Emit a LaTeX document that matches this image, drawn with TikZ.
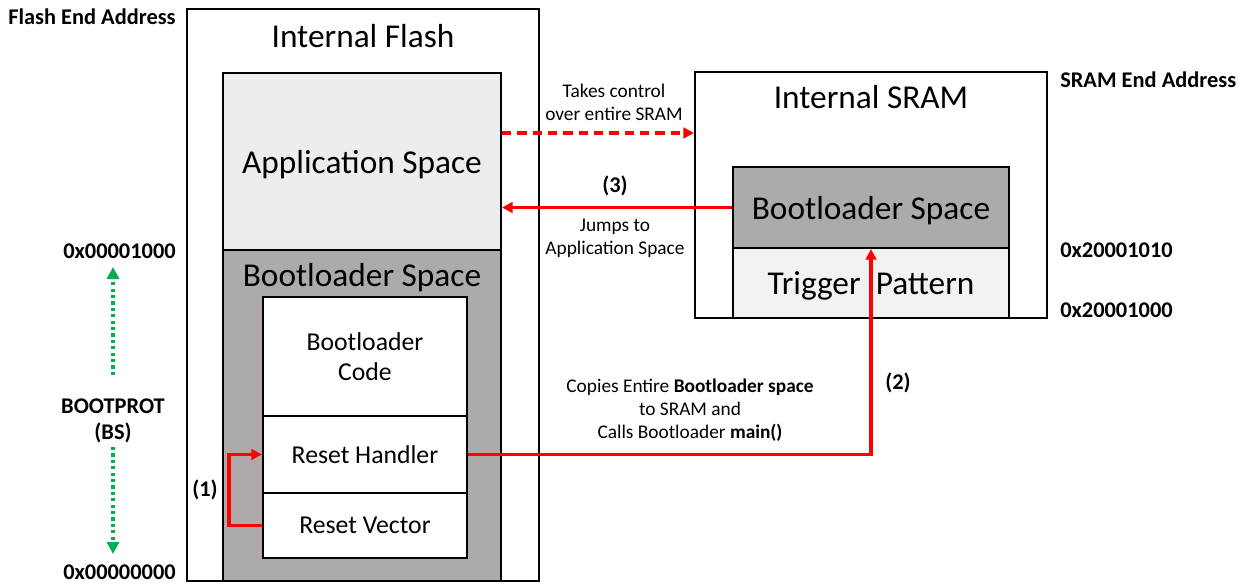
\documentclass[tikz,border=0pt]{standalone}
\usepackage{fontspec}
\setmainfont{Carlito}
\usetikzlibrary{arrows.meta}
\definecolor{blgray}{HTML}{AEAAAA}
\definecolor{appgray}{HTML}{EDEDED}
\definecolor{trigray}{HTML}{F2F2F2}
\definecolor{bsgreen}{HTML}{00B050}

\begin{document}
\begin{tikzpicture}[
    x=0.75pt, y=-0.75pt,
    box/.style={rectangle, draw, line width=1.5pt, inner sep=0pt},
    big/.style={font=\fontsize{25}{29}\selectfont},
    mid/.style={font=\fontsize{19.3}{23}\selectfont, align=center},
    small/.style={font=\fontsize{14.5}{17.25}\selectfont, align=center},
    addr/.style={font=\bfseries\fontsize{16.8}{19}\selectfont, inner sep=0pt},
    flow/.style={draw=red, line width=2.4pt, -{Triangle[length=8pt,width=8pt]}},
    bsline/.style={draw=bsgreen, line width=2.4pt, dash pattern=on 2.4pt off 2.4pt,
                   -{Triangle[length=9pt,width=9pt]}},
    >=Stealth
]
\useasboundingbox (0,0) rectangle (1246,586);

% Flash
\node[box, minimum width=264pt, minimum height=429pt] (flash) at (363,295) {};
\node[big] (flashtitle) at (363,36) {Internal Flash};
\node[box, fill=appgray, big, text depth=0pt, minimum width=208.5pt, minimum height=132.75pt] (app)
    at (362,161.5) {Application Space};
\node[box, fill=blgray, minimum width=208.5pt, minimum height=248.25pt] (fboot) at (362,415.5) {};
\node[big] (fboottitle) at (362,278) {Bootloader Space};
\node[box, fill=white, mid, minimum width=153pt, minimum height=89.25pt] (code)
    at (365,356.5) {Bootloader\\Code};
\node[box, fill=white, mid, minimum width=153pt, minimum height=57.75pt] (handler)
    at (365,454.5) {Reset Handler};
\node[box, fill=white, mid, minimum width=153pt, minimum height=48.75pt] (vector)
    at (365,525.5) {Reset Vector};

% SRAM
\node[box, minimum width=264pt, minimum height=184.5pt] (sram) at (871,195) {};
\node[big] (sramtitle) at (871,97) {Internal SRAM};
\node[box, fill=blgray, big, text depth=0pt, minimum width=207pt, minimum height=60.75pt] (sboot)
    at (871,207.5) {Bootloader Space};
\node[box, fill=trigray, big, text depth=0pt, minimum width=207pt, minimum height=52.5pt] (trigger)
    at (871,283) {Trigger~ Pattern};

% Adressen
\node[addr, anchor=west] (flashend) at (8,17) {Flash End Address};
\node[addr, anchor=east] (bsend) at (176,251) {0x00001000};
\node[addr, anchor=east] (flashstart) at (176,572) {0x00000000};
\node[addr, anchor=west] (sramend) at (1060,80) {SRAM End Address};
\node[addr, anchor=west] (trigend) at (1060,250) {0x20001010};
\node[addr, anchor=west] (trigstart) at (1060,310) {0x20001000};

% BOOTPROT
\node[addr, align=center] (bootprot) at (113,421) {BOOTPROT\\(BS)};
\coordinate (bptop) at (113,267);
\coordinate (bpbot) at (113,554);
\draw[bsline, shorten <=18pt] (bootprot.north) -- (bptop);
\draw[bsline, shorten <=3pt] (bootprot.south) -- (bpbot);

% Pfeile
\draw[flow, dash pattern=on 7pt off 4.5pt] ([yshift=21.4pt]app.east)
    -- ([yshift=21.4pt]app.east -| sram.west);
\draw[flow] (sboot.west) -- (sboot.west -| app.east);
\draw[flow] (handler.east) -| (sboot.south);
\draw[flow] (vector.west) -- ++(-33,0) |- (handler.west);

% Beschriftungen
\node[addr] (step1) at (205,490) {(1)};
\node[addr] (step2) at (898,383) {(2)};
\node[addr] (step3) at (615,186) {(3)};
\node[small] (takes) at (614,102) {Takes control\\over entire SRAM};
\node[small] (jumps) at (615,238) {Jumps to\\Application Space};
\node[small] (copies) at (690,410)
    {Copies Entire \textbf{Bootloader space}\\to SRAM and\\Calls Bootloader \textbf{main()}};

\end{tikzpicture}
\end{document}
